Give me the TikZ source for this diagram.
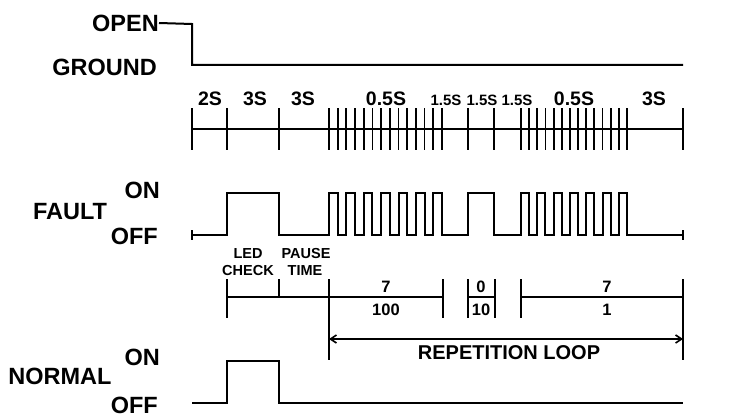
\documentclass[tikz,border=0pt]{standalone}
\usepackage{fontspec}
\setmainfont{Liberation Sans}
\usepackage{tikz}
\usetikzlibrary{arrows.meta, positioning}

\begin{document}
\begin{tikzpicture}[x=1pt, y=-1pt,
  sig/.style={line width=2pt, line join=miter},
  tick/.style={line width=1.8pt},
  big/.style={font=\fontsize{23.5}{25}\selectfont\bfseries, inner sep=0pt},
  mid/.style={font=\fontsize{19.5}{21}\selectfont\bfseries, inner sep=0pt},
  sml/.style={font=\fontsize{15}{17}\selectfont\bfseries, inner sep=0pt},
  note/.style={font=\fontsize{16.5}{17}\selectfont\bfseries, inner sep=0pt, anchor=base},
  dimarr/.style={line width=1.6pt, {Straight Barb[length=6pt,width=8pt]}-{Straight Barb[length=6pt,width=8pt]}},
]
\useasboundingbox (0,0) rectangle (736,420);

% open / ground
\node[big, anchor=east] (open) at (159,23) {OPEN};
\node[big, anchor=east] (ground) at (157,67) {GROUND};
\coordinate (stepA) at (192,24);
\coordinate (stepB) at (192,65);
\coordinate (gndEnd) at (683,65);
\draw[sig] (open.east) -- (stepA) -- (stepB) -- (gndEnd);

% time axis
\coordinate (axL) at (192,129);
\coordinate (axR) at (683,129);
\draw[tick] (axL) -- (axR);
\foreach \x in {192,227,279,468,494,683}
  \draw[tick] (\x,108) -- (\x,150);
\foreach \k in {0,...,13}{
  \draw[tick] (329+\k*8.69,108) -- (329+\k*8.69,150);
  \draw[tick] (521+\k*8.15,108) -- (521+\k*8.15,150);
}
\node[mid] (t2s) at (210,99) {2S};
\node[mid] (t3sa) at (255,99) {3S};
\node[mid] (t3sb) at (303,99) {3S};
\node[mid] (t05a) at (386,99) {0.5S};
\node[sml] (t15a) at (446,100) {1.5S};
\node[sml] (t15b) at (482,100) {1.5S};
\node[sml] (t15c) at (517,100) {1.5S};
\node[mid] (t05b) at (574,99) {0.5S};
\node[mid] (t3sc) at (654,99) {3S};

% fault signal
\node[big] (fault) at (70,212) {FAULT};
\node[big, anchor=east] (fon) at (160,190) {ON};
\node[big, anchor=east] (foff) at (158,236) {OFF};
\draw[tick] (192,230) -- (192,240);
\draw[tick] (683,230) -- (683,240);
\draw[sig] (192,235) -- (227,235) -- (227,193) -- (279,193) -- (279,235) -- (329,235)
  \foreach \i in {1,...,7}{ -- ++(0,-42) -- ++(8.69,0) -- ++(0,42) -- ++(8.69,0)}
  -- (468,235) -- (468,193) -- (494,193) -- (494,235) -- (521,235)
  \foreach \i in {1,...,7}{ -- ++(0,-42) -- ++(8.15,0) -- ++(0,42) -- ++(8.15,0)}
  -- (683,235);

% code breakdown
\node[note, font=\fontsize{14.5}{15}\selectfont\bfseries] (led) at (248,258) {LED};
\node[note, font=\fontsize{14.5}{15}\selectfont\bfseries] (check) at (248,275) {CHECK};
\node[note, font=\fontsize{14.5}{15}\selectfont\bfseries] (pause) at (306,258) {PAUSE};
\node[note, font=\fontsize{14.5}{15}\selectfont\bfseries] (ptime) at (305,275) {TIME};
\foreach \x in {227,443,468,495,521}
  \draw[tick] (\x,279) -- (\x,318);
\draw[tick] (279,279) -- (279,297);
\draw[tick] (329,279) -- (329,360);
\draw[tick] (683,279) -- (683,360);
\draw[tick] (227,297) -- (443,297);
\draw[tick] (468,297) -- (495,297);
\draw[tick] (521,297) -- (683,297);
\node[note] (d100) at (386,292) {7};
\node[note] (n100) at (386,315) {100};
\node[note] (d10) at (481,292) {0};
\node[note] (n10) at (481,315) {10};
\node[note] (d1) at (607,292) {7};
\node[note] (n1) at (607,315) {1};

% repetition loop
\coordinate (loopL) at (329,339);
\coordinate (loopR) at (683,339);
\draw[dimarr] (loopL) -- (loopR);
\node[font=\fontsize{20}{22}\selectfont\bfseries, inner sep=0pt] (loop) at (509,353) {REPETITION LOOP};

% normal signal
\node[big] (normal) at (60,376) {NORMAL};
\node[big, anchor=east] (non) at (160,357) {ON};
\node[big, anchor=east] (noff) at (158,405) {OFF};
\draw[sig] (192,403) -- (227,403) -- (227,361) -- (279,361) -- (279,403) -- (683,403);
\end{tikzpicture}
\end{document}
